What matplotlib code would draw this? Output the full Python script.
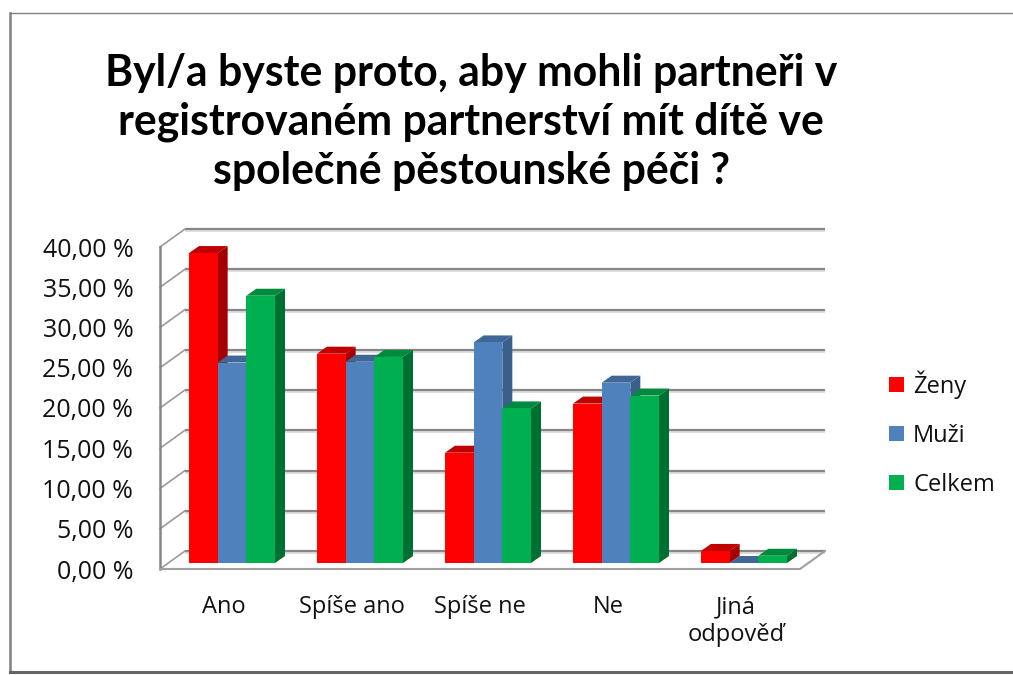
import matplotlib
matplotlib.use('Agg')
import matplotlib.pyplot as plt
from matplotlib.lines import Line2D
from matplotlib.patches import Polygon, Rectangle
from matplotlib.transforms import Affine2D

plt.rcParams['font.family'] = ['Open Sans', 'DejaVu Sans']

title = 'Byl/a byste proto, aby mohli partneři v\nregistrovaném partnerství mít dítě ve\nspolečné pěstounské péči ?'
categories = ['Ano', 'Spíše ano', 'Spíše ne', 'Ne', 'Jiná\nodpověď']
zeny = [38.5, 26.0, 13.7, 19.8, 1.5]
muzi = [24.9, 25.0, 27.4, 22.4, 0.0]
celkem = [33.2, 25.6, 19.2, 20.8, 0.9]
yticks = [0, 5, 10, 15, 20, 25, 30, 35, 40]
yticklabels = ['0,00 %', '5,00 %', '10,00 %', '15,00 %', '20,00 %', '25,00 %', '30,00 %', '35,00 %', '40,00 %']

names = ['Ženy', 'Muži', 'Celkem']
fronts = ['#FF0000', '#4F81BD', '#00B050']
sides = ['#A50000', '#3A5F8C', '#006F32']
tops = ['#C00000', '#3F6797', '#008A3E']

W, H = 1013, 675
fig = plt.figure(figsize=(W / 100, H / 100), dpi=100, facecolor='white')
# axes = plane of the bar fronts, pixels 168..808 and 563..241
ax = fig.add_axes([168 / W, (H - 563) / H, 640 / W, 322 / H])
ax.set_xlim(-0.5, 4.5)
ax.set_ylim(0, 40)
ax.patch.set_visible(False)
for s in ax.spines.values():
    s.set_visible(False)

px = 1 / 128      # one pixel in category units
py = 40 / 322     # one pixel in percent units
wall = '#868686'

# back wall and side wall
back_x, back_y = 17 * px, 12 * py
front_x, front_y = -8 * px, -6 * py
for t in yticks:
    ax.plot([-0.5 + back_x, 4.5 + back_x], [t + back_y - 2 * py] * 2, color='#DEDEDE', lw=1.5,
            clip_on=False, zorder=1, solid_capstyle='butt')
    ax.plot([-0.5 + back_x, 4.5 + back_x], [t + back_y] * 2, color=wall, lw=1.6,
            clip_on=False, zorder=1.1, solid_capstyle='butt')
    ax.plot([-0.5 + front_x, -0.5 + back_x], [t + front_y, t + back_y], color='#9A9A9A', lw=1.2,
            clip_on=False, zorder=1.2)
ax.plot([-0.5 + front_x] * 2, [0 + front_y, 40 + front_y], color=wall, lw=1.8, clip_on=False, zorder=1.3)
# floor
ax.plot([-0.5 + front_x, 4.5 + front_x, 4.5 + back_x], [front_y, front_y, back_y], color='#A0A0A0', lw=1.5,
        clip_on=False, zorder=1.3)

# bars
width = 0.224
dx, dy = 10 * px, 7 * py
handles = []
for j, values in enumerate([zeny, muzi, celkem]):
    for i, v in enumerate(values):
        x0 = i + (j - 1.5) * width
        x1 = x0 + width
        z = 2 + i + j * 0.1
        ax.add_patch(Polygon([(x1, 0), (x1 + dx, dy), (x1 + dx, v + dy), (x1, v)], closed=True,
                             fc=sides[j], ec='none', zorder=z, clip_on=False))
        ax.add_patch(Polygon([(x0, v), (x1, v), (x1 + dx, v + dy), (x0 + dx, v + dy)], closed=True,
                             fc=tops[j], ec='none', zorder=z, clip_on=False))
        ax.bar(i + (j - 1) * width, v, width, color=fronts[j], zorder=z + 0.01, clip_on=False)
    handles.append(Rectangle((0, 0), 1, 1, fc=fronts[j], ec='none'))

# tick labels on the front edge of the walls
ax.set_xticks(range(5))
ax.set_xticklabels(categories, fontsize=17, color='#111111', linespacing=1.2, va='top')
ax.set_yticks(yticks)
ax.set_yticklabels(yticklabels, fontsize=18, color='#111111')
ax.tick_params(axis='both', length=0)
ax.tick_params(axis='x', pad=23)
ax.tick_params(axis='y', pad=25)
for lab in ax.get_xticklabels():
    lab.set_transform(lab.get_transform() + Affine2D().translate(-8, 0))
for tick in ax.yaxis.get_major_ticks():
    tick.label1.set_transform(tick.label1.get_transform() + Affine2D().translate(0, -6))

fig.text(471 / W, 1 - 122 / H, title, ha='center', va='center', fontsize=30.8, fontweight='bold',
         family=['Lato', 'DejaVu Sans'], color='#000000', linespacing=1.27)

fig.legend(handles, names, loc='center left', bbox_to_anchor=(882 / W, 1 - 434 / H), frameon=False,
           fontsize=17, handlelength=0.64, handleheight=0.6, handletextpad=0.38, labelspacing=1.06,
           labelcolor='#111111', borderpad=0.3, borderaxespad=0)

# outer frame of the picture
fig.add_artist(Line2D([10 / W, 10 / W], [1 - 13 / H, 1 - 672 / H], color='#808080', lw=1.8))
fig.add_artist(Line2D([10 / W, 1], [1 - 13 / H, 1 - 13 / H], color='#808080', lw=1))
fig.add_artist(Line2D([10 / W, 1], [1 - 672 / H, 1 - 672 / H], color='#666666', lw=2.2))

fig.savefig('out.png', dpi=100)
